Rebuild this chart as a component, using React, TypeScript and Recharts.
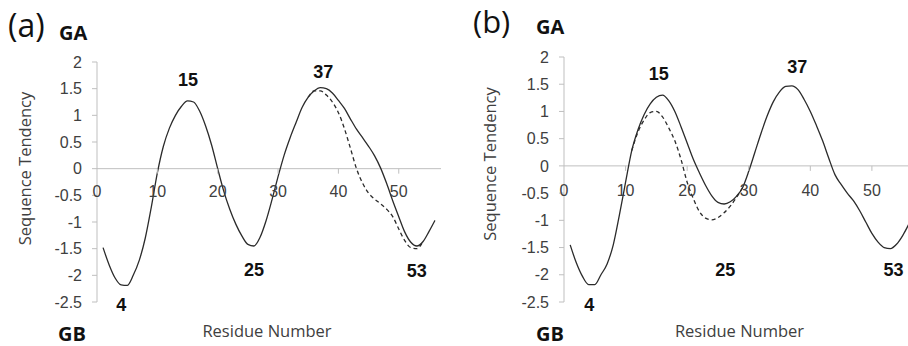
import React from 'react';
import { LineChart, Line, XAxis, YAxis, ReferenceLine, ReferenceDot } from 'recharts';

// residue numbers along the x axis
const residues = [
  1, 2, 3, 4, 5, 6, 7, 8, 9, 10, 11, 12, 13, 14, 15, 16, 17, 18, 19, 20,
  21, 22, 23, 24, 25, 26, 27, 28, 29, 30, 31, 32, 33, 34, 35, 36, 37, 38, 39, 40,
  41, 42, 43, 44, 45, 46, 47, 48, 49, 50, 51, 52, 53, 54, 55, 56,
];

// panel (a): solid curve
const tendencyA = [
  -1.48, -1.8, -2.05, -2.18, -2.19, -2.0, -1.72, -1.3, -0.72, -0.08,
  0.42, 0.76, 1.0, 1.17, 1.27, 1.25, 1.08, 0.8, 0.44, 0.0,
  -0.42, -0.76, -1.04, -1.26, -1.42, -1.45, -1.29, -0.98, -0.58, -0.15,
  0.25, 0.58, 0.87, 1.15, 1.34, 1.46, 1.52, 1.5, 1.42, 1.28,
  1.13, 0.93, 0.74, 0.58, 0.42, 0.24, 0.01, -0.28, -0.6, -0.9,
  -1.19, -1.38, -1.45, -1.37, -1.18, -0.97,
];
// panel (a): dashed curve, from residue 35 to 54
const variantAStart = 35;
const variantA = [
  1.34, 1.46, 1.46, 1.38, 1.25, 1.05, 0.75, 0.38, 0.0, -0.27,
  -0.46, -0.57, -0.66, -0.76, -0.9, -1.13, -1.35, -1.48, -1.5, -1.37,
];

// panel (b): solid curve
const tendencyB = [
  -1.45, -1.78, -2.03, -2.18, -2.18, -2.0, -1.8, -1.45, -0.9, -0.3,
  0.28, 0.66, 0.94, 1.14, 1.26, 1.3, 1.2, 1.0, 0.72, 0.42,
  0.12, -0.13, -0.36, -0.55, -0.67, -0.7, -0.66, -0.56, -0.4, -0.1,
  0.25, 0.6, 0.92, 1.18, 1.36, 1.46, 1.47, 1.4, 1.22, 1.0,
  0.74, 0.46, 0.14, -0.16, -0.34, -0.5, -0.64, -0.82, -1.03, -1.24,
  -1.4, -1.5, -1.52, -1.44, -1.28, -1.07,
];
// panel (b): dashed curve, from residue 11 to 29
const variantBStart = 11;
const variantB = [
  0.28, 0.62, 0.84, 0.98, 1.0, 0.9, 0.7, 0.46, 0.12, -0.3,
  -0.6, -0.84, -0.96, -0.99, -0.95, -0.86, -0.74, -0.58, -0.4,
];

const xTicks = [0, 10, 20, 30, 40, 50];
const yTicks = [-2.5, -2, -1.5, -1, -0.5, 0, 0.5, 1, 1.5, 2];

// bold residue annotations
const peakLabels = ['4', '15', '25', '37', '53'];
const peakResidueA = [4, 15.1, 26, 37.5, 53];
const peakValueA = [-2.56, 1.67, -1.9, 1.82, -1.92];
const peakResidueB = [4.1, 15.4, 26.2, 37.9, 53.5];
const peakValueB = [-2.56, 1.68, -1.91, 1.81, -1.92];

const buildRows = (solid: number[], dashed: number[], dashedStart: number) =>
  residues.map((r, i) => {
    const j = r - dashedStart;
    return {
      residue: r,
      solid: solid[i],
      dashed: j >= 0 && j < dashed.length ? dashed[j] : null,
    };
  });

const dataA = buildRows(tendencyA, variantA, variantAStart);
const dataB = buildRows(tendencyB, variantB, variantBStart);

const AXIS_GRAY = '#bfbfbf';
const TEXT_GRAY = '#404040';
const LINE = '#2b2b2b';

interface PanelProps {
  data: { residue: number; solid: number; dashed: number | null }[];
  left: number;
  width: number;
  margin: { top: number; right: number; bottom: number; left: number };
  tickLabelOffset: number;
  peakResidue: number[];
  peakValue: number[];
}

function Panel({ data, left, width, margin, tickLabelOffset, peakResidue, peakValue }: PanelProps) {
  return (
    <div style={{ position: 'absolute', left, top: 0 }}>
      <LineChart width={width} height={346} data={data} margin={margin}>
        <XAxis dataKey="residue" type="number" domain={[0, 57]} hide />
        <YAxis
          type="number"
          domain={[-2.5, 2]}
          ticks={yTicks}
          interval={0}
          width={60}
          axisLine={{ stroke: AXIS_GRAY }}
          tickLine={{ stroke: AXIS_GRAY }}
          tickSize={5}
          tickMargin={10}
          tick={{ fontSize: 16, fill: TEXT_GRAY, fontFamily: 'Liberation Sans, Arial, sans-serif' }}
        />
        <ReferenceLine y={0} stroke={AXIS_GRAY} strokeWidth={1} />
        {xTicks.map((t) => (
          <ReferenceDot
            key={`xt-${t}`}
            x={t}
            y={0}
            ifOverflow="visible"
            shape={(p: any) => (
              <g>
                {t > 0 && <line x1={p.cx} y1={p.cy} x2={p.cx} y2={p.cy + 5} stroke={AXIS_GRAY} />}
                <text
                  x={p.cx}
                  y={p.cy + tickLabelOffset}
                  textAnchor="middle"
                  fontSize={16}
                  fill={TEXT_GRAY}
                  fontFamily="Liberation Sans, Arial, sans-serif"
                >
                  {t}
                </text>
              </g>
            )}
          />
        ))}
        <Line
          type="monotone"
          dataKey="solid"
          stroke={LINE}
          strokeWidth={1.3}
          dot={false}
          isAnimationActive={false}
        />
        <Line
          type="monotone"
          dataKey="dashed"
          stroke={LINE}
          strokeWidth={1.3}
          strokeDasharray="4 3"
          dot={false}
          connectNulls={false}
          isAnimationActive={false}
        />
        {peakLabels.map((lab, i) => (
          <ReferenceDot
            key={`pk-${lab}`}
            x={peakResidue[i]}
            y={peakValue[i]}
            ifOverflow="visible"
            shape={(p: any) => (
              <text
                x={p.cx}
                y={p.cy}
                textAnchor="middle"
                dominantBaseline="central"
                fontSize={18}
                fontWeight={700}
                fill="#111"
                fontFamily="Liberation Sans, Arial, sans-serif"
              >
                {lab}
              </text>
            )}
          />
        ))}
      </LineChart>
    </div>
  );
}

export default function App() {
  const sans = "'Open Sans', sans-serif";
  return (
    <div
      style={{
        position: 'absolute',
        left: 0,
        top: 0,
        width: 908,
        height: 346,
        overflow: 'hidden',
        background: '#fff',
      }}
    >
      <Panel
        data={dataA}
        left={0}
        width={454}
        margin={{ top: 62, right: 13, bottom: 44, left: 37 }}
        tickLabelOffset={28.5}
        peakResidue={peakResidueA}
        peakValue={peakValueA}
      />
      <Panel
        data={dataB}
        left={454}
        width={466}
        margin={{ top: 57, right: 5, bottom: 44, left: 50 }}
        tickLabelOffset={30}
        peakResidue={peakResidueB}
        peakValue={peakValueB}
      />
      <svg
        width={908}
        height={346}
        style={{ position: 'absolute', left: 0, top: 0, pointerEvents: 'none' }}
      >
        <text x={8} y={37} fontSize={32} fill="#111" fontFamily={sans}>(a)</text>
        <text x={59} y={39.5} fontSize={20} fontWeight={700} fill="#111" fontFamily={sans}>GA</text>
        <text x={58} y={340.5} fontSize={20} fontWeight={700} fill="#111" fontFamily={sans}>GB</text>
        <text x={267} y={336.5} fontSize={16.5} textAnchor="middle" fill={TEXT_GRAY} fontFamily={sans}>
          Residue Number
        </text>
        <text
          transform="translate(24,168.5) rotate(-90)"
          fontSize={16.5}
          textAnchor="middle"
          dominantBaseline="central"
          fill={TEXT_GRAY}
          fontFamily={sans}
        >
          Sequence Tendency
        </text>

        <text x={473} y={33} fontSize={31} fill="#111" fontFamily={sans}>(b)</text>
        <text x={536} y={33.5} fontSize={20} fontWeight={700} fill="#111" fontFamily={sans}>GA</text>
        <text x={536} y={340.5} fontSize={20} fontWeight={700} fill="#111" fontFamily={sans}>GB</text>
        <text x={739.5} y={336.5} fontSize={16.5} textAnchor="middle" fill={TEXT_GRAY} fontFamily={sans}>
          Residue Number
        </text>
        <text
          transform="translate(489.5,164) rotate(-90)"
          fontSize={16.5}
          textAnchor="middle"
          dominantBaseline="central"
          fill={TEXT_GRAY}
          fontFamily={sans}
        >
          Sequence Tendency
        </text>
      </svg>
    </div>
  );
}
